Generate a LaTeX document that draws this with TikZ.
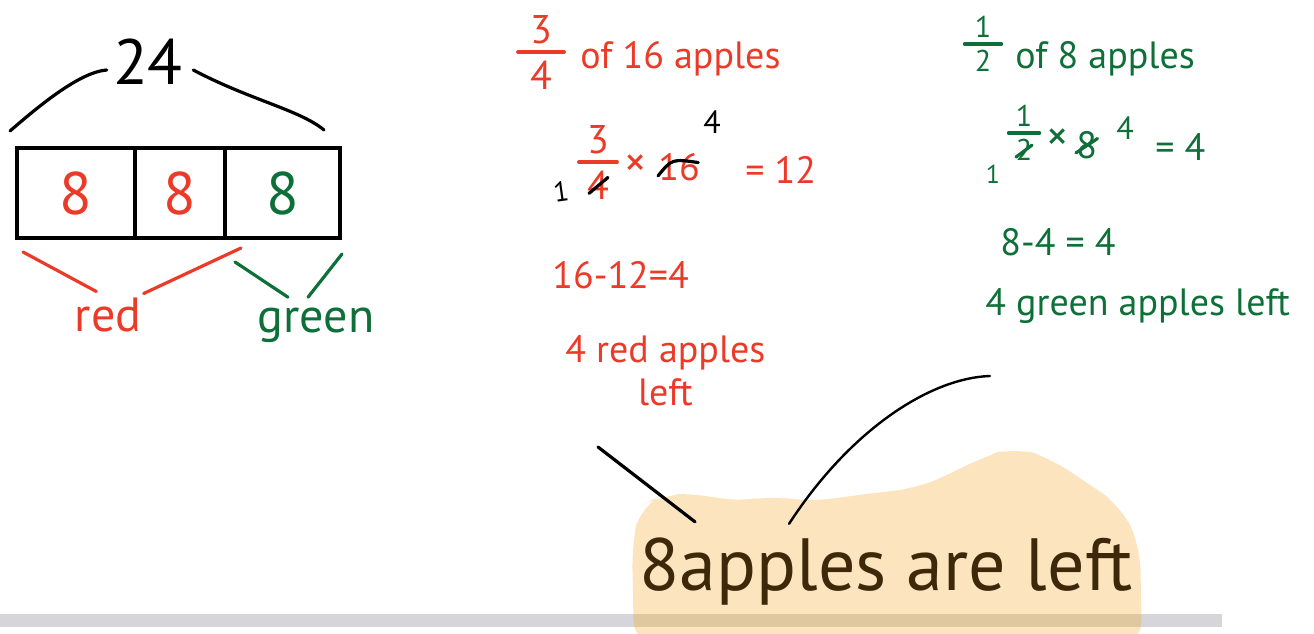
\documentclass[tikz,border=0pt]{standalone}
\usepackage{fontspec}
\setmainfont{PT Sans}
\usepackage{xcolor}
\usepackage{tikz}
\usetikzlibrary{positioning, calc}
\definecolor{hred}{RGB}{236,58,40}
\definecolor{hgrn}{RGB}{14,112,56}
\definecolor{hbrn}{RGB}{62,40,10}
\definecolor{hlite}{RGB}{252,228,190}
\definecolor{hbar}{RGB}{214,214,218}
\definecolor{hmix}{RGB}{222,200,160}
\newcommand{\hsz}[1]{\fontsize{#1}{#1}\selectfont}
\tikzset{
  pen/.style={line width=1.6pt, line cap=round, draw=black},
  rpen/.style={pen, draw=hred},
  gpen/.style={pen, draw=hgrn},
  rtxt/.style={text=hred, font=\hsz{19}, inner sep=0pt, anchor=base west},
  gtxt/.style={text=hgrn, font=\hsz{19}, inner sep=0pt, anchor=base west},
  frc/.style={inner sep=0pt, align=center, font=\hsz{20}},
  cell/.style={draw, line width=2pt, minimum height=45pt, inner sep=0pt, font=\hsz{30}}
}

\begin{document}
\begin{tikzpicture}[x=0.5pt, y=-0.5pt]
  \useasboundingbox (0,0) rectangle (1314,633);
  % highlight and the page edge
  \def\blobpath{[rounded corners=12pt] (634,645) -- (632,545) -- (640,506) -- (662,495) -- (700,493) -- (735,503) -- (770,495) -- (805,502) -- (845,497) -- (880,492) -- (915,489) -- (950,474) -- (985,456) -- (1015,447) -- (1050,458) -- (1090,485) -- (1120,505) -- (1140,545) -- (1142,645) -- cycle}
  \fill[hlite] \blobpath;
  \fill[hbar] (0,614) rectangle (1222,627);
  \begin{scope}
    \clip \blobpath;
    \fill[hmix] (0,614) rectangle (1222,627);
  \end{scope}

  % tape diagram
  \node[font=\hsz{32}, inner sep=0pt] (tot) at (148,62) {24};
  \node[cell, minimum width=59pt, text=hred] (c1) at (76,193) {8};
  \node[cell, minimum width=45pt, text=hred] (c2) at (180,193) {8};
  \node[cell, minimum width=57.5pt, text=hgrn] (c3) at (282.5,193) {8};
  \draw[pen] ($(tot.west)+(-6,8)$) .. controls (80,72) and (40,105) .. ($(c1.north west)+(-5,-15)$);
  \draw[pen] ($(tot.east)+(10,8)$) .. controls (250,100) and (300,110) .. ($(c3.north east)+(-18,-16)$);
  \node[text=hred, font=\hsz{24}, inner sep=0pt] (red) at (108,315) {red};
  \node[text=hgrn, font=\hsz{24}, inner sep=0pt] (green) at (316,325) {green};
  \draw[rpen] ($(c1.south west)+(8,12)$) -- ($(red.north west)+(22,-6)$);
  \draw[rpen] ($(red.north east)+(2,-4)$) -- ($(c2.south east)+(14,8)$);
  \draw[gpen] ($(c3.south west)+(12,22)$) -- ($(green.north)+(-28,-10)$);
  \draw[gpen] ($(green.north)+(-8,-10)$) -- ($(c3.south east)+(0,14)$);

  % red apples
  \node[frc, text=hred] (fa) at (541,52) {3\\[3pt]4};
  \draw[rpen] ($(fa.west)+(-12,0)$) -- ($(fa.east)+(12,0)$);
  \node[rtxt] (ofa) at (580,68) {of 16 apples};
  \node[inner sep=0pt, font=\hsz{14}, rotate=8] (oneb) at (561,192) {1};
  \node[frc, text=hred] (fb) at (598,162) {3\\[3pt]4};
  \draw[rpen] ($(fb.west)+(-8,0)$) -- ($(fb.east)+(8,0)$);
  \node[text=hred, font=\hsz{22}, inner sep=0pt] (xb) at (636,166) {\texttimes};
  \node[rtxt] (sxt) at (658,180) {16};
  \node[inner sep=0pt, font=\hsz{16}] (fourb) at (712,122) {4};
  \node[rtxt] (twv) at (745,183) {= 12};
  \draw[pen] ($(fb.south)+(-9,-6)$) -- ($(fb.south)+(10,-22)$);
  \draw[pen] ($(sxt.south west)+(0,-5)$) .. controls ($(sxt.south west)+(14,-22)$) .. ($(sxt.north east)+(-2,10)$);
  \node[rtxt] (sub) at (552,288) {16-12=4};
  \node[rtxt] (rl) at (565,362) {4 red apples};
  \node[rtxt, below=4pt of rl] (rleft) {left};

  % green apples
  \node[frc, text=hgrn, font=\hsz{15}] (fc) at (983,44) {1\\[2pt]2};
  \draw[gpen] ($(fc.west)+(-10,0)$) -- ($(fc.east)+(10,0)$);
  \node[gtxt] (ofc) at (1015,68) {of 8 apples};
  \node[inner sep=0pt, font=\hsz{13}, text=hgrn] (oned) at (993,174) {1};
  \node[frc, text=hgrn, font=\hsz{15}] (fd) at (1024,133) {1\\[2pt]2};
  \draw[gpen] ($(fd.west)+(-7,0)$) -- ($(fd.east)+(7,0)$);
  \node[text=hgrn, font=\hsz{22}, inner sep=0pt] (xd) at (1058,140) {\texttimes};
  \node[gtxt] (eightd) at (1076,158) {8};
  \node[inner sep=0pt, font=\hsz{16}, text=hgrn] (fourd) at (1125,128) {4};
  \node[gtxt] (fvr) at (1155,160) {= 4};
  \draw[gpen] ($(fd.south)+(-8,-4)$) -- ($(fd.south)+(8,-16)$);
  \draw[gpen] ($(eightd.south west)+(0,-6)$) -- ($(eightd.north east)+(0,8)$);
  \node[gtxt] (subg) at (1000,255) {8-4 = 4};
  \node[gtxt] (gl) at (985,315) {4 green apples left};

  % answer
  \node[text=hbrn, font=\hsz{37}, inner sep=0pt] (ans) at (886,572) {8apples are left};
  \coordinate (pa) at (598,447);
  \coordinate (pb) at (990,376);
  \draw[pen] (pa) -- ($(ans.north west)+(56,-16)$);
  \draw[pen, line width=1.2pt] ($(ans.north west)+(150,-14)$) .. controls (850,430) and (930,378) .. (pb);
\end{tikzpicture}
\end{document}
